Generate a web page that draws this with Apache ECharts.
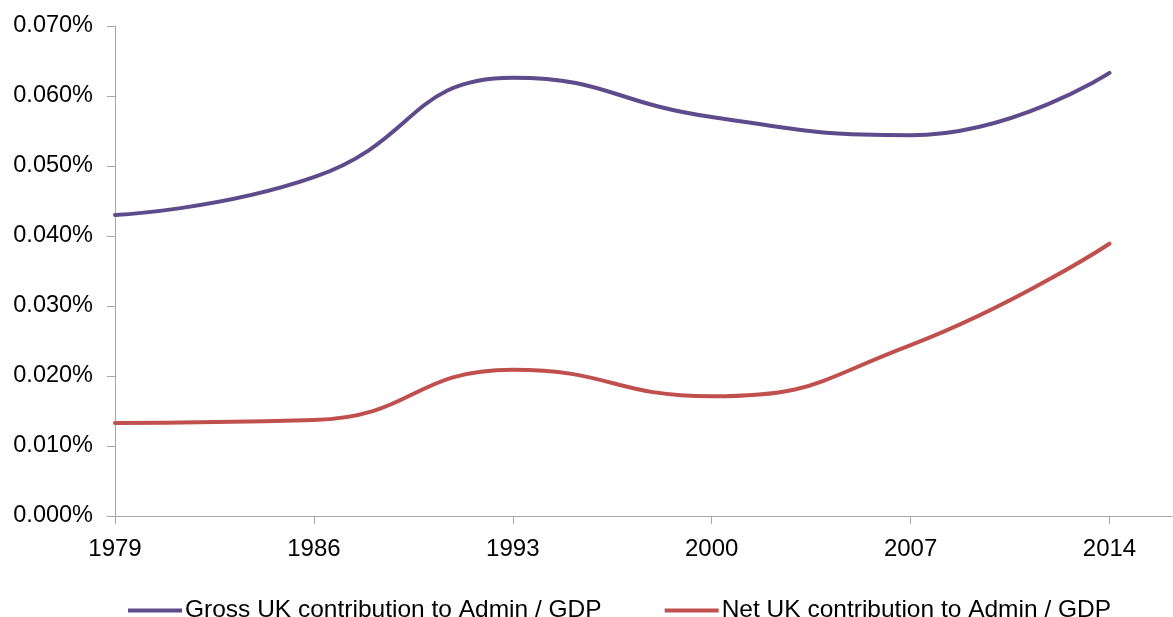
<!DOCTYPE html>
<html>
<head>
<meta charset="utf-8">
<script src="https://cdn.jsdelivr.net/npm/echarts@6/dist/echarts.min.js"></script>
<style>
  html, body { margin: 0; padding: 0; background: #ffffff; }
  #chart { width: 1173px; height: 617px; }
</style>
</head>
<body>
<div id="chart"></div>
<script>
// Years shown on the horizontal axis
const years = [1979, 1986, 1993, 2000, 2007, 2014];
// UK contribution to EU administration, as % of GDP
const grossShare = [0.0430, 0.0484, 0.0626, 0.0570, 0.0544, 0.0633];
const netShare = [0.0133, 0.0137, 0.0209, 0.0171, 0.0244, 0.0389];
// Vertical axis ticks (percent)
const yTicks = [0, 0.01, 0.02, 0.03, 0.04, 0.05, 0.06, 0.07];

const seriesNames = ['Gross UK contribution to Admin / GDP', 'Net UK contribution to Admin / GDP'];
const colors = ['#5E4B8C', '#C0504D'];
const font = 'Liberation Sans';

const pairs = arr => years.map((y, i) => [y, arr[i]]);

const chart = echarts.init(document.getElementById('chart'), null, { renderer: 'canvas' });
chart.setOption({
  animation: false,
  backgroundColor: '#ffffff',
  grid: { left: 115, right: 1, top: 26, bottom: 101, containLabel: false },
  xAxis: {
    type: 'value',
    min: 1979,
    max: 2016.2,
    axisLine: { show: true, lineStyle: { color: '#a6a6a6', width: 1 } },
    axisTick: { show: true, length: 8, inside: false, customValues: years, lineStyle: { color: '#a6a6a6' } },
    axisLabel: { customValues: years, margin: 21, color: '#000', fontFamily: font, fontSize: 24, formatter: v => String(v) },
    splitLine: { show: false }
  },
  yAxis: {
    type: 'value',
    min: yTicks[0],
    max: yTicks[yTicks.length - 1],
    interval: 0.01,
    axisLine: { show: true, lineStyle: { color: '#a6a6a6', width: 1 } },
    axisTick: { show: true, length: 8, lineStyle: { color: '#a6a6a6' } },
    axisLabel: { margin: 22, color: '#000', fontFamily: font, fontSize: 23.5, formatter: v => v.toFixed(3) + '%' },
    splitLine: { show: false }
  },
  legend: {
    top: 593,
    left: 123,
    itemWidth: 54,
    itemHeight: 4,
    itemGap: 63,
    icon: 'rect',
    textStyle: { color: '#000', fontFamily: font, fontSize: 24.5, padding: [0, 0, 0, -2] },
    data: seriesNames
  },
  series: [
    {
      name: seriesNames[0], type: 'line', smooth: 0.5, showSymbol: false,
      data: pairs(grossShare),
      lineStyle: { color: colors[0], width: 4, cap: 'round' }, itemStyle: { color: colors[0] }
    },
    {
      name: seriesNames[1], type: 'line', smooth: 0.5, showSymbol: false,
      data: pairs(netShare),
      lineStyle: { color: colors[1], width: 4, cap: 'round' }, itemStyle: { color: colors[1] }
    }
  ]
});
</script>
</body>
</html>
